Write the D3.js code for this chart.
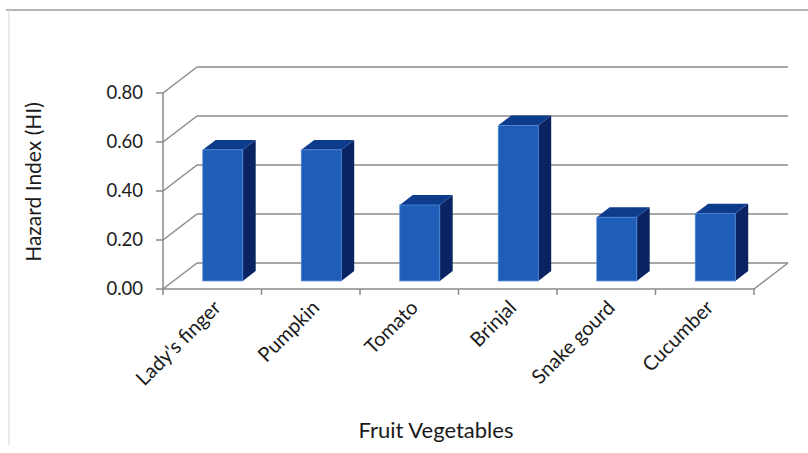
<!DOCTYPE html>
<html>
<head>
<meta charset="utf-8">
<script src="https://cdn.jsdelivr.net/npm/d3@7"></script>
<style>
  body { margin: 0; background: #fff; }
  text { font-family: Lato, "Open Sans", sans-serif; fill: #1a1a1a; }
</style>
</head>
<body>
<script>
// data
const categories = ["Lady's finger", "Pumpkin", "Tomato", "Brinjal", "Snake gourd", "Cucumber"];
const hazardIndex = [0.535, 0.535, 0.31, 0.635, 0.26, 0.275];
const yTicks = [0, 0.2, 0.4, 0.6, 0.8];
const yTickLabels = ["0.00", "0.20", "0.40", "0.60", "0.80"];

const width = 808, height = 453;
// depth of the 3d box (oblique projection)
const DX = 34, DY = -26;

let svg = d3.select("body").append("svg")
    .attr("width", width)
    .attr("height", height);

// frame lines
svg.append("line").attr("x1", 6).attr("y1", 10).attr("x2", 808).attr("y2", 10)
    .attr("stroke", "#9a9a9a").attr("stroke-width", 1.5);
svg.append("line").attr("x1", 9).attr("y1", 10).attr("x2", 9).attr("y2", 445)
    .attr("stroke", "#dcdcdc").attr("stroke-width", 1.2);

let x = d3.scaleBand().domain(categories).range([163, 754]);
let y = d3.scaleLinear().domain([0, 0.8]).range([289, 93]);
let depth = d3.scaleLinear().domain([0, 1]).range([0, 1]);  // fraction of depth

let x0 = x.range()[0], x1 = x.range()[1];
let grid = svg.append("g").attr("stroke", "#8a8a8a").attr("stroke-width", 1.5).attr("fill", "none");

// back wall gridlines + left wall diagonals
grid.selectAll(".back").data(yTicks).enter().append("line")
    .attr("x1", x0 + DX).attr("x2", x1 + DX)
    .attr("y1", d => y(d) + DY).attr("y2", d => y(d) + DY);
grid.selectAll(".diag").data(yTicks).enter().append("line")
    .attr("x1", x0).attr("x2", x0 + DX)
    .attr("y1", d => y(d)).attr("y2", d => y(d) + DY);

// floor right edge
grid.append("line")
    .attr("x1", x1).attr("y1", y(0)).attr("x2", x1 + DX).attr("y2", y(0) + DY);

// bars
const t0 = 0.31, t1 = 0.69;
const bw = 40;
let bars = svg.selectAll(".bar").data(categories.map((c, i) => ({ name: c, value: hazardIndex[i] })))
    .enter().append("g").attr("class", "bar");

function fx(d) { return x(d.name) + x.bandwidth() / 2 - bw / 2 + depth(t0) * DX; }
function fyTop(d) { return y(d.value) + depth(t0) * DY; }
function fyBot() { return y(0) + depth(t0) * DY; }
const ddx = (t1 - t0) * DX, ddy = (t1 - t0) * DY;

// side face
bars.append("path")
    .attr("d", d => {
        let xr = fx(d) + bw;
        return `M${xr},${fyTop(d)}L${xr + ddx},${fyTop(d) + ddy}L${xr + ddx},${fyBot() + ddy}L${xr},${fyBot()}Z`;
    })
    .attr("fill", "#0a2463");
// top face
bars.append("path")
    .attr("d", d => {
        let xl = fx(d), yt = fyTop(d);
        return `M${xl},${yt}L${xl + ddx},${yt + ddy}L${xl + bw + ddx},${yt + ddy}L${xl + bw},${yt}Z`;
    })
    .attr("fill", "#0e3c8c");
// front face
bars.append("rect")
    .attr("x", d => fx(d))
    .attr("y", d => fyTop(d))
    .attr("width", bw)
    .attr("height", d => fyBot() - fyTop(d))
    .attr("fill", "#1e5db8")
    .attr("stroke", "#4f86d6").attr("stroke-width", 0.8);

// front axes
let axes = svg.append("g").attr("stroke", "#8a8a8a").attr("stroke-width", 1.5);
axes.append("line").attr("x1", x0).attr("x2", x0).attr("y1", y(0)).attr("y2", y(0.8));
axes.append("line").attr("x1", x0).attr("x2", x1).attr("y1", y(0)).attr("y2", y(0));
axes.selectAll(".yt").data(yTicks).enter().append("line")
    .attr("x1", x0 - 7).attr("x2", x0).attr("y1", d => y(d)).attr("y2", d => y(d));
let bounds = categories.map(c => x(c)).concat([x1]);
axes.selectAll(".xt").data(bounds).enter().append("line")
    .attr("x1", d => d).attr("x2", d => d).attr("y1", y(0)).attr("y2", y(0) + 6);

// y tick labels
svg.selectAll(".ylab").data(yTicks).enter().append("text")
    .attr("x", 143).attr("y", d => y(d))
    .attr("dy", "0.35em")
    .attr("text-anchor", "end")
    .style("font-size", "18.5px")
    .text((d, i) => yTickLabels[i]);

// x category labels
svg.selectAll(".xlab").data(categories).enter().append("text")
    .attr("transform", d => `translate(${x(d) + x.bandwidth() / 2 + 5},${y(0) + 15}) rotate(-45)`)
    .attr("text-anchor", "end")
    .attr("dy", "0.35em")
    .style("font-size", "20px")
    .text(d => d);

// axis titles
svg.append("text")
    .attr("transform", "translate(41,182) rotate(-90)")
    .attr("text-anchor", "middle")
    .style("font-size", "21px")
    .text("Hazard Index (HI)");
svg.append("text")
    .attr("x", 436).attr("y", 438)
    .attr("text-anchor", "middle")
    .style("font-size", "22px")
    .text("Fruit Vegetables");
</script>
</body>
</html>
